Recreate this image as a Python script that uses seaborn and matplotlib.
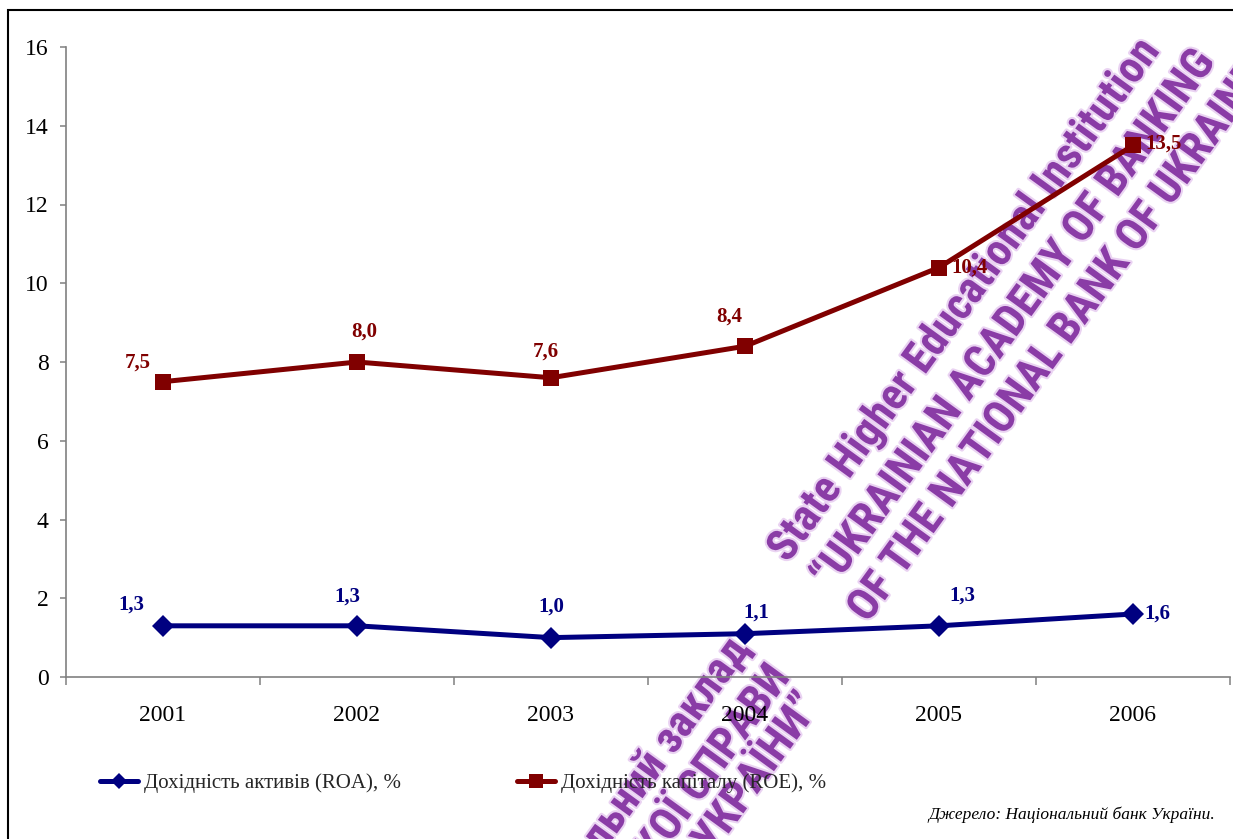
import matplotlib
matplotlib.use("Agg")
import matplotlib.pyplot as plt
import matplotlib.patheffects as pe
from matplotlib.lines import Line2D
from matplotlib.patches import Rectangle
import seaborn as sns
import pandas as pd

# ---- data ----
years = ["2001", "2002", "2003", "2004", "2005", "2006"]
roa = [1.3, 1.3, 1.0, 1.1, 1.3, 1.6]
roe = [7.5, 8.0, 7.6, 8.4, 10.4, 13.5]
roa_label = "Дохідність активів (ROA), %"
roe_label = "Дохідність капіталу (ROE), %"
source_note = "Джерело: Національний банк України."
y_ticks = [0, 2, 4, 6, 8, 10, 12, 14, 16]

stamp_en = ["State Higher Educational Institution",
            "\u201cUKRAINIAN ACADEMY OF BANKING",
            "OF THE NATIONAL BANK OF UKRAINE\u201d"]
stamp_uk = ["Державний вищий навчальний заклад",
            "\u201cУКРАЇНСЬКА АКАДЕМІЯ БАНКІВСЬКОЇ СПРАВИ",
            "НАЦІОНАЛЬНОГО БАНКУ УКРАЇНИ\u201d"]

# ---- styling ----
NAVY = "#000080"
MAROON = "#800000"
GRAY = "#808080"
STAMP = "#8a3ca6"
# label offsets in points (dx, dy, horizontal alignment)
roa_offsets = [(-23, 15, "center"), (-7, 21, "center"), (0, 22, "center"),
               (8, 15, "center"), (17, 22, "center"), (8, 0, "left")]
roe_offsets = [(-18, 14, "center"), (5, 22, "center"), (-4, 19, "center"),
               (-11, 21, "center"), (9, 0, "left"), (9, 1, "left")]

sns.set_theme(style="ticks")
plt.rcParams["font.family"] = ["Liberation Serif", "DejaVu Serif"]

W, H = 1233, 839
fig = plt.figure(figsize=(W / 100, H / 100), dpi=100)
fig.patch.set_facecolor("white")


def fx(px):
    return px / W


def fy(py):
    return 1 - py / H


ax = fig.add_axes([fx(66), fy(677), fx(1230) - fx(66), fy(47) - fy(677)])
ax.set_facecolor("white")
ax.set_axisbelow("line")

df = pd.DataFrame({
    "pos": list(range(len(years))) * 2,
    "value": roa + roe,
    "series": [roa_label] * len(years) + [roe_label] * len(years),
})
sns.lineplot(data=df, x="pos", y="value", hue="series", style="series",
             markers={roa_label: "D", roe_label: "s"}, dashes=False,
             palette={roa_label: NAVY, roe_label: MAROON},
             linewidth=3.6, markersize=11, markeredgewidth=0,
             legend=False, ax=ax, zorder=3)

# value labels
for vals, offs, col in ((roa, roa_offsets, NAVY), (roe, roe_offsets, MAROON)):
    for i, (v, (dx, dy, ha)) in enumerate(zip(vals, offs)):
        ax.annotate(f"{v:.1f}".replace(".", ","), (i, v), xytext=(dx, dy),
                    textcoords="offset points", ha=ha, va="center",
                    fontsize=15, fontweight="bold", color=col, zorder=4)

# axes
ax.set_xlim(-0.5, len(years) - 0.5)
ax.set_ylim(0, 16)
ax.set_xticks(range(len(years)))
ax.set_xticklabels(years)
ax.set_xticks([i - 0.5 for i in range(len(years) + 1)], minor=True)
ax.set_yticks(y_ticks)
ax.set_xlabel("")
ax.set_ylabel("")
ax.tick_params(axis="x", which="major", length=0, pad=20, labelsize=17,
               labelcolor="black")
ax.tick_params(axis="x", which="minor", length=6, width=1.1, color=GRAY,
               direction="out", bottom=True)
ax.tick_params(axis="y", which="major", length=4.5, width=1.1, color=GRAY,
               direction="out", pad=8, labelsize=17, labelcolor="black",
               left=True)
sns.despine(ax=ax)
for side in ("left", "bottom"):
    ax.spines[side].set_color(GRAY)
    ax.spines[side].set_linewidth(1.2)

# watermark stamps
stamp_kw = dict(rotation=54, rotation_mode="anchor", va="center",
                fontsize=32, fontweight="black", fontstretch="condensed",
                color=STAMP,
                family=["Roboto Condensed", "Roboto", "DejaVu Sans"],
                transform=fig.transFigure, zorder=1.0, clip_on=False,
                path_effects=[pe.withStroke(linewidth=3, foreground="#ead3f2")])
for (x0, y0), line in zip([(778, 557), (822, 584), (858, 617)], stamp_en):
    ax.text(fx(x0), fy(y0), line, ha="left", **stamp_kw)
for (x1, y1), line in zip([(742, 641), (780, 668), (810, 697)], stamp_uk):
    ax.text(fx(x1), fy(y1), line, ha="right", **stamp_kw)

# legend
handles = [Line2D([], [], color=NAVY, lw=3.6, marker="D", markersize=8,
                  markeredgewidth=0),
           Line2D([], [], color=MAROON, lw=3.6, marker="s", markersize=10,
                  markeredgewidth=0)]
fig.legend(handles, [roa_label, roe_label], ncol=2, loc="center left",
           bbox_to_anchor=(fx(100), fy(783)), frameon=False, fontsize=15,
           handlelength=1.8, handletextpad=0.3, columnspacing=5.6,
           borderpad=0, borderaxespad=0)

# source note
fig.text(fx(1215), fy(815), source_note, ha="right", va="center",
         fontsize=12.5, style="italic", color="black")

# outer frame
fig.add_artist(Rectangle((fx(8), -0.1), 1.2, fy(10) + 0.1,
                         transform=fig.transFigure, fill=False,
                         edgecolor="black", linewidth=1.5, zorder=0))

fig.savefig("out.png", dpi=100)
